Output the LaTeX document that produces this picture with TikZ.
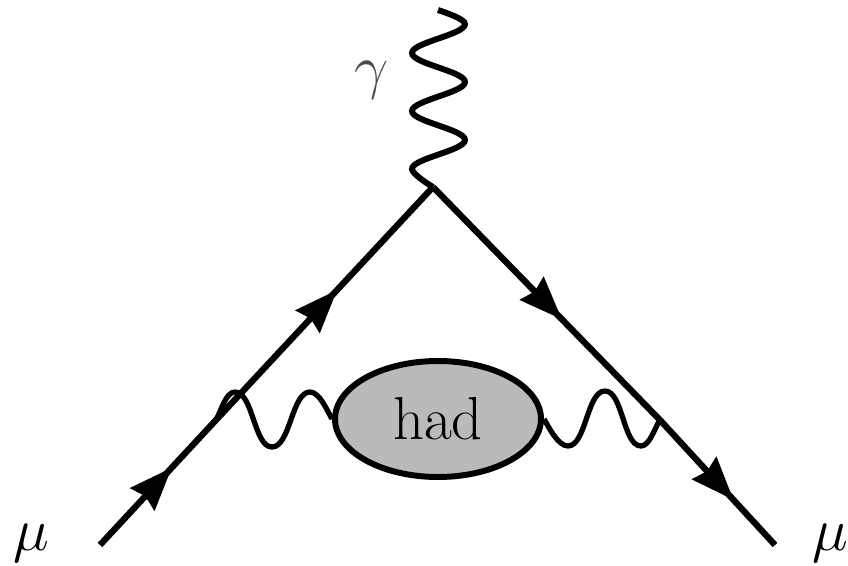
\documentclass[tikz,border=0pt]{standalone}
\usetikzlibrary{arrows.meta, positioning, shapes.geometric, decorations.markings}

\begin{document}
\begin{tikzpicture}[
    fermion/.style={line width=1.8pt, postaction={decorate},
                 decoration={markings, mark=at position #1 with {\arrow[scale=1.1]{Stealth[inset=1pt]}}}},
    photon/.style={line width=1.5pt, looseness=0.7},
    blob/.style={ellipse, draw, line width=1.7pt, fill=black!27, minimum width=2.06cm,
                 minimum height=1.16cm, inner sep=0pt, font=\LARGE},
    lbl/.style={inner sep=0pt, font=\LARGE},
  ]
    \useasboundingbox (0,0) rectangle (8.48,5.65);

    \coordinate (in)  at (1.00,0.20);
    \coordinate (wl)  at (2.16,1.45);
    \coordinate (vtx) at (4.33,3.78);
    \coordinate (wr)  at (6.60,1.45);
    \coordinate (out) at (7.75,0.20);
    \coordinate (top) at (4.38,5.55);

    \node[blob] (had) at (4.38,1.46) {had};

    \draw[photon] (wl) to[out=60,in=180] ++(0.19,0.28) to[out=0,in=180] ++(0.37,-0.55)
      to[out=0,in=180] ++(0.38,0.55) to[out=0,in=120] (had.west);
    \draw[photon] (had.east) to[out=-60,in=180] ++(0.24,-0.27) to[out=0,in=180] ++(0.37,0.55)
      to[out=0,in=180] ++(0.36,-0.55) to[out=0,in=-125] (wr);
    \draw[photon, line width=1.7pt, looseness=0.45] (top) to[out=-20,in=90] ++(0.27,-0.14)
      to[out=-90,in=90] ++(-0.53,-0.29) to[out=-90,in=90] ++(0.53,-0.29)
      to[out=-90,in=90] ++(-0.53,-0.29) to[out=-90,in=90] ++(0.53,-0.29)
      to[out=-90,in=90] ++(-0.53,-0.29) to[out=-90,in=150] (vtx);

    \draw[fermion=0.62] (in)  -- (wl);
    \draw[fermion=0.56] (wl)  -- (vtx);
    \draw[fermion=0.57] (vtx) -- (wr);
    \draw[fermion=0.64] (wr)  -- (out);

    \node[lbl, text=black!70] (gam) at (3.72,4.85) {$\gamma$};
    \node[lbl] (mul) at (0.31,0.22) {$\mu$};
    \node[lbl] (mur) at (8.30,0.22) {$\mu$};
  \end{tikzpicture}
\end{document}
